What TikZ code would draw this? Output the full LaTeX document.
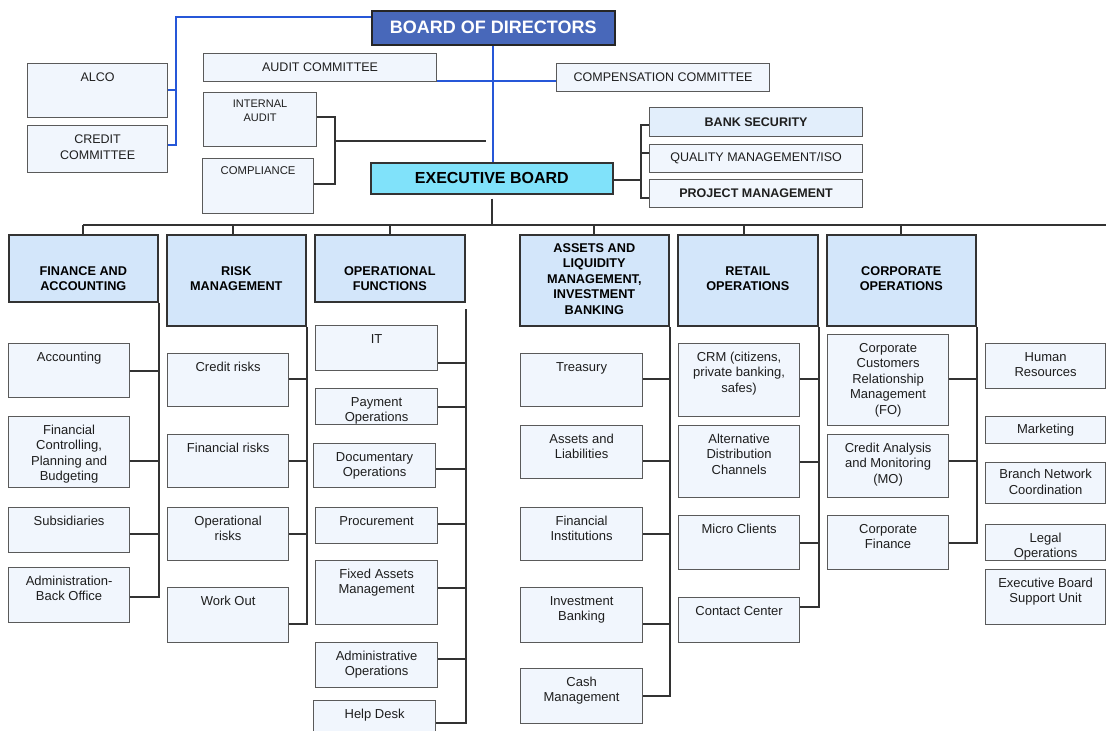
\documentclass[tikz,border=0pt]{standalone}
\usepackage{fontspec}
\setmainfont{Liberation Sans}
\usetikzlibrary{calc}
\definecolor{bodfill}{HTML}{4868BA}
\definecolor{ebfill}{HTML}{80E2FA}
\definecolor{hdrfill}{HTML}{D3E6FA}
\definecolor{boxfill}{HTML}{F1F6FD}
\definecolor{bsfill}{HTML}{E2EEFB}
\definecolor{bline}{HTML}{2657D8}
\definecolor{lcol}{HTML}{333333}
\definecolor{bcol}{HTML}{5A5A5A}
\definecolor{tcol}{HTML}{1E1E1E}
\tikzset{
 boxst/.style={draw=bcol, fill=boxfill, line width=1.2pt, inner sep=0pt, anchor=north west},
 bsst/.style={boxst, fill=bsfill},
 hdrst/.style={draw=lcol, fill=hdrfill, line width=1.6pt, inner sep=0pt, anchor=north west},
 bodst/.style={draw=black!85, fill=bodfill, line width=1.6pt, inner sep=0pt, anchor=north west},
 ebst/.style={draw=lcol, fill=ebfill, line width=1.6pt, inner sep=0pt, anchor=north west},
 txt/.style={anchor=north, align=center, inner sep=0pt, text=tcol, font=\fontsize{13}{15.5}\selectfont},
 ctxt/.style={anchor=center, align=center, inner sep=0pt, text=tcol, font=\fontsize{12.5}{15}\selectfont},
 htxt/.style={anchor=center, align=center, inner sep=0pt, text=black, font=\fontsize{12.7}{15}\selectfont\bfseries},
 conn/.style={draw=lcol, line width=1.8pt},
 busst/.style={draw=lcol, line width=2.4pt},
 blueconn/.style={draw=bline, line width=1.8pt},
}
% box: [style]{name}{x1}{y1}{x2}{y2}
\newcommand\bx[6][boxst]{%
 \pgfmathsetmacro\bxw{#5-#3}\pgfmathsetmacro\bxh{#6-#4}%
 \node[#1, minimum width=\bxw pt, minimum height=\bxh pt] (#2) at (#3,#4) {};}
% top-aligned text in box
\newcommand\btx[3][7]{\node[txt] at ($(#2.north)+(0,#1)$) {\strut #3};}
% connector child -> bus
\newcommand\cn[3]{\draw[conn] ([yshift=#3pt]#1.east) -| (#2);}
\begin{document}
\begin{tikzpicture}[x=1pt,y=-1pt]
\useasboundingbox (0,0) rectangle (1106,731);
\clip (0,0) rectangle (1106,731);

% ---------- top area ----------
\bx[bodst]{bod}{371}{10}{614}{44}
\node[anchor=center, text=white, font=\fontsize{18}{20}\selectfont\bfseries] at (bod.center) {BOARD OF DIRECTORS};

\bx{alco}{27}{63}{167}{117}
\node[txt, font=\fontsize{12.5}{15.5}\selectfont] at ($(alco.north)+(0,7)$) {\strut ALCO};
\bx{ccom}{27}{125}{167}{172}
\node[txt, font=\fontsize{12.5}{15.5}\selectfont] at ($(ccom.north)+(0,7.5)$) {\strut CREDIT\\COMMITTEE};

\bx{audit}{203}{53}{436}{81}
\node[ctxt] at (audit.center) {AUDIT COMMITTEE};
\bx{comp}{556}{63}{769}{91}
\node[ctxt] at ([yshift=0.5pt]comp.center) {COMPENSATION COMMITTEE};

\bx{ia}{203}{92}{316}{146}
\node[txt, font=\fontsize{11}{14}\selectfont] at ($(ia.north)+(0,5)$) {\strut INTERNAL\\AUDIT};
\bx{cmpl}{202}{158}{313}{213}
\node[txt, font=\fontsize{11.3}{14}\selectfont] at ($(cmpl.north)+(0,6.5)$) {\strut COMPLIANCE};

\bx[ebst]{eb}{370}{162}{612}{193}
\node[anchor=center, text=black, font=\fontsize{16}{18}\selectfont\bfseries] at (eb.center) {EXECUTIVE BOARD};

\bx[bsst]{bs}{649}{107}{862}{136}
\node[ctxt, font=\fontsize{12.5}{15}\selectfont\bfseries] at (bs.center) {BANK SECURITY};
\bx{qm}{649}{144}{862}{172}
\node[ctxt] at (qm.center) {QUALITY MANAGEMENT/ISO};
\bx{pm}{649}{179}{862}{207}
\node[ctxt, font=\fontsize{12.5}{15}\selectfont\bfseries] at (pm.center) {PROJECT MANAGEMENT};

% blue connectors
\coordinate (bj) at (176,17);
\draw[blueconn] ([yshift=-7pt]bod.north west) -- (bj) |- ([yshift=4.5pt]ccom.east);
\draw[blueconn] ([yshift=1pt]alco.east) -- ([yshift=1pt]alco.east -| bj);
\draw[blueconn] ([yshift=-13pt]audit.east) -- ([yshift=-13pt]audit.east -| comp.west);
\draw[blueconn] (bod.south) -- (bod.south |- eb.north);

% internal audit / compliance bracket
\coordinate (iaj) at (335,141);
\coordinate (iaend) at (486,141);
\draw[conn] ([yshift=3pt]ia.east) -| (iaj) |- ([yshift=2.5pt]cmpl.east);
\draw[conn] (iaj) -- (iaend);

% executive board right bracket
\coordinate (ebj) at (641,180);
\draw[conn] (ebj) -- (ebj -| eb.east);
\draw[conn] ([yshift=-2.5pt]bs.west) -| (ebj);
\draw[conn] ([yshift=6pt]qm.west) -| (ebj);
\draw[conn] ([yshift=-4pt]pm.west) -| (ebj);

% ---------- headers ----------
\bx[hdrst]{fin}{8}{234}{157}{301}
\bx[hdrst]{risk}{166}{234}{305}{325}
\bx[hdrst]{ops}{314}{234}{464}{301}
\bx[hdrst]{alm}{519}{234}{668}{325}
\bx[hdrst]{ret}{677}{234}{817}{325}
\bx[hdrst]{corp}{826}{234}{975}{325}
\node[htxt] at (fin.center |- 0,279) {FINANCE AND\\ACCOUNTING};
\node[htxt] at (risk.center |- 0,279) {RISK\\MANAGEMENT};
\node[htxt] at (ops.center |- 0,279) {OPERATIONAL\\FUNCTIONS};
\node[htxt, font=\fontsize{12.7}{15.5}\selectfont\bfseries] at (alm.center |- 0,279) {ASSETS AND\\LIQUIDITY\\MANAGEMENT,\\INVESTMENT\\BANKING};
\node[htxt] at (ret.center |- 0,279) {RETAIL\\OPERATIONS};
\node[htxt] at (corp.center |- 0,279) {CORPORATE\\OPERATIONS};

% main bus
\coordinate (busR) at (1106,225);
\draw[busst] (fin.north |- busR) -- (busR);
\draw[conn] ([yshift=-4pt]eb.south) -- (eb.south |- busR);
\draw[conn] (fin.north) -- (fin.north |- busR);
\draw[conn] ([xshift=-3.5pt]risk.north) -- ([xshift=-3.5pt]risk.north |- busR);
\draw[conn] (ops.north) -- (ops.north |- busR);
\draw[conn] (alm.north) -- (alm.north |- busR);
\draw[conn] ([xshift=-4pt]ret.north) -- ([xshift=-4pt]ret.north |- busR);
\draw[conn] (corp.north) -- (corp.north |- busR);

% ---------- finance column ----------
\bx{acc}{8}{343}{129}{397}      \btx{acc}{Accounting}
\bx{fcpb}{8}{416}{129}{487}     \btx{fcpb}{Financial\\Controlling,\\Planning and\\Budgeting}
\bx{sub}{8}{507}{129}{552}      \btx{sub}{Subsidiaries}
\bx{abo}{8}{567}{129}{622}      \btx{abo}{Administration-\\Back Office}
\cn{acc}{fin.south east}{0}
\cn{fcpb}{fin.south east}{-8.5}
\cn{sub}{fin.south east}{-3.5}
\cn{abo}{fin.south east}{-1.5}

% ---------- risk column ----------
\bx{cr}{167}{353}{288}{406}     \btx{cr}{Credit risks}
\bx{fr}{167}{434}{288}{487}     \btx{fr}{Financial risks}
\bx{opr}{167}{507}{288}{560}    \btx{opr}{Operational\\risks}
\bx{wo}{167}{587}{288}{642}     \btx{wo}{Work Out}
\cn{cr}{risk.south east}{1.5}
\cn{fr}{risk.south east}{0}
\cn{opr}{risk.south east}{0}
\cn{wo}{risk.south east}{-8.5}

% ---------- operational functions column ----------
\coordinate (opsb) at ([yshift=-6pt]ops.south east);
\bx{it}{315}{325}{437}{370}     \btx{it}{IT}
\bx{pay}{315}{388}{437}{424}    \btx{pay}{Payment\\Operations}
\bx{doc}{313}{443}{435}{487}    \btx{doc}{Documentary\\Operations}
\bx{proc}{315}{507}{437}{543}   \btx{proc}{Procurement}
\bx{fam}{315}{560}{437}{624}    \btx{fam}{Fixed Assets\\Management}
\bx{adm}{315}{642}{437}{687}    \btx{adm}{Administrative\\Operations}
\bx{hd}{313}{700}{435}{745}     \btx{hd}{Help Desk}
\cn{it}{opsb}{-14.5}
\cn{pay}{opsb}{0}
\cn{doc}{opsb}{-3}
\cn{proc}{opsb}{2}
\cn{fam}{opsb}{5}
\cn{adm}{opsb}{6.5}
\cn{hd}{opsb}{0}

% ---------- assets & liquidity column ----------
\bx{tre}{520}{353}{642}{406}    \btx{tre}{Treasury}
\bx{al}{520}{425}{642}{478}     \btx{al}{Assets and\\Liabilities}
\bx{fi}{520}{507}{642}{560}     \btx{fi}{Financial\\Institutions}
\bx{ib}{520}{587}{642}{642}     \btx{ib}{Investment\\Banking}
\bx{cm}{520}{668}{642}{723}     \btx{cm}{Cash\\Management}
\cn{tre}{alm.south east}{1.5}
\cn{al}{alm.south east}{-8.5}
\cn{fi}{alm.south east}{0}
\cn{ib}{alm.south east}{-8.5}
\cn{cm}{alm.south east}{0}

% ---------- retail column ----------
\bx{crm}{678}{343}{799}{416}    \btx{crm}{CRM (citizens,\\private banking,\\safes)}
\bx{adc}{678}{425}{799}{497}    \btx{adc}{Alternative\\Distribution\\Channels}
\bx{mc}{678}{515}{799}{569}     \btx{mc}{Micro Clients}
\bx{ctc}{678}{597}{799}{642}    \btx{ctc}{Contact Center}
\cn{crm}{ret.south east}{1.5}
\cn{adc}{ret.south east}{0}
\cn{mc}{ret.south east}{0}
\cn{ctc}{ret.south east}{13.5}

% ---------- corporate column ----------
\bx{ccrm}{827}{334}{948}{425}   \btx{ccrm}{Corporate\\Customers\\Relationship\\Management\\(FO)}
\bx{cam}{827}{434}{948}{497}    \btx{cam}{Credit Analysis\\and Monitoring\\(MO)}
\bx{cf}{827}{515}{948}{569}     \btx{cf}{Corporate\\Finance}
\cn{ccrm}{corp.south east}{1.5}
\cn{cam}{corp.south east}{5.5}
\cn{cf}{corp.south east}{0}

% ---------- right column ----------
\bx{hr}{985}{343}{1105}{388}    \btx{hr}{Human\\Resources}
\bx{mkt}{985}{416}{1105}{443}   \btx[6]{mkt}{Marketing}
\bx{bnc}{985}{462}{1105}{503}   \btx[5.5]{bnc}{Branch Network\\Coordination}
\bx{lo}{985}{524}{1105}{560}    \btx{lo}{Legal\\Operations}
\bx{ebsu}{985}{569}{1105}{624}  \btx{ebsu}{Executive Board\\Support Unit}
\end{tikzpicture}
\end{document}
